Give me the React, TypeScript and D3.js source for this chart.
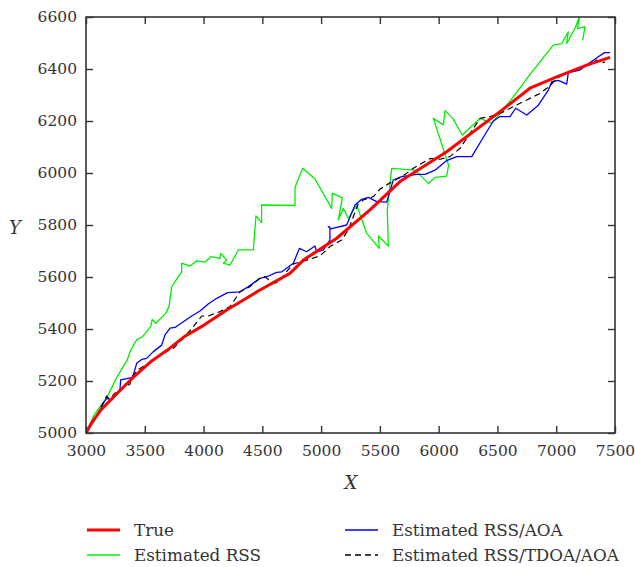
import React, { useEffect, useRef } from "react";
import * as d3 from "d3";

// tick values
const xTicks = [3000, 3500, 4000, 4500, 5000, 5500, 6000, 6500, 7000, 7500];
const yTicks = [5000, 5200, 5400, 5600, 5800, 6000, 6200, 6400, 6600];

// series, [x, y]
const trueTrack: [number, number][] = [
	[3000, 5000], [3050, 5040], [3125, 5088], [3266, 5153], [3408, 5217], [3550, 5274],
	[3692, 5319], [3834, 5370], [4004, 5415], [4197, 5473], [4480, 5550], [4735, 5614],
	[4849, 5665], [5133, 5749], [5416, 5858], [5671, 5967], [6068, 6082], [6522, 6236],
	[6777, 6326], [7004, 6370], [7259, 6415], [7458, 6445],
];

const rssTrack: [number, number][] = [
	[3000, 5000], [3068, 5069], [3181, 5140], [3266, 5217], [3351, 5281], [3380, 5319],
	[3431, 5358], [3479, 5370], [3550, 5409], [3564, 5437], [3593, 5422], [3678, 5460],
	[3706, 5486], [3729, 5563], [3814, 5620], [3814, 5653], [3885, 5642], [3942, 5662],
	[4012, 5657], [4061, 5678], [4140, 5672], [4146, 5691], [4197, 5665], [4168, 5653],
	[4225, 5646], [4296, 5704], [4423, 5704], [4446, 5835], [4494, 5809], [4494, 5877],
	[4778, 5875], [4778, 5945], [4843, 6018], [4948, 5977], [5090, 5864], [5095, 5922],
	[5181, 5905], [5146, 5819], [5189, 5864], [5231, 5826], [5302, 5877], [5388, 5768],
	[5495, 5710], [5487, 5758], [5572, 5719], [5563, 5858], [5600, 6018], [5799, 6011],
	[5912, 5960], [5969, 5983], [6068, 5988], [6085, 6030], [5954, 6210], [6040, 6185],
	[6054, 6240], [6120, 6210], [6200, 6146], [6352, 6210], [6451, 6191], [6522, 6229],
	[6635, 6293], [6805, 6396], [6975, 6492], [7046, 6498], [7103, 6543], [7089, 6498],
	[7160, 6556], [7200, 6605], [7180, 6555], [7245, 6563], [7225, 6510],
];

const rssAoaTrack: [number, number][] = [
	[3000, 5000], [3100, 5070], [3147, 5114], [3176, 5133], [3219, 5127], [3289, 5168],
	[3295, 5204], [3397, 5214], [3431, 5268], [3474, 5283], [3516, 5287], [3573, 5313],
	[3644, 5338], [3672, 5377], [3715, 5403], [3757, 5406], [3828, 5428], [3899, 5450],
	[3970, 5469], [4040, 5496], [4112, 5518], [4205, 5540], [4310, 5543], [4381, 5563],
	[4480, 5595], [4537, 5601], [4622, 5618], [4665, 5620], [4764, 5653], [4815, 5710],
	[4877, 5697], [4948, 5719], [4962, 5697], [5019, 5704], [5075, 5742], [5075, 5791],
	[5061, 5794], [5080, 5785], [5218, 5800], [5288, 5877], [5345, 5899], [5402, 5906],
	[5473, 5890], [5558, 5888], [5614, 5973], [5686, 5986], [5813, 5995], [5884, 5995],
	[5969, 6011], [6068, 6048], [6153, 6063], [6281, 6063], [6366, 6127], [6465, 6200],
	[6522, 6217], [6607, 6217], [6655, 6249], [6749, 6223], [6848, 6261], [6933, 6319],
	[6962, 6351], [7018, 6356], [7089, 6342], [7103, 6386], [7202, 6396], [7245, 6411],
	[7358, 6447], [7412, 6463], [7458, 6463],
];

const rssTdoaAoaTrack: [number, number][] = [
	[3000, 5000], [3100, 5075], [3176, 5142], [3200, 5130], [3247, 5153], [3332, 5178],
	[3374, 5188], [3389, 5216], [3450, 5245], [3550, 5274], [3650, 5305], [3743, 5326],
	[3828, 5364], [3913, 5409], [3984, 5450], [4040, 5450], [4140, 5467], [4225, 5486],
	[4310, 5543], [4395, 5563], [4480, 5595], [4523, 5601], [4594, 5576], [4640, 5580],
	[4693, 5614], [4764, 5650], [4877, 5665], [4991, 5681], [5075, 5717], [5175, 5742],
	[5231, 5781], [5274, 5832], [5317, 5883], [5359, 5896], [5445, 5909], [5501, 5938],
	[5586, 5962], [5700, 5990], [5784, 6018], [5929, 6056], [6012, 6053], [6096, 6063],
	[6182, 6095], [6210, 6114], [6324, 6191], [6352, 6210], [6437, 6217], [6522, 6229],
	[6635, 6255], [6749, 6281], [6862, 6306], [6947, 6335], [7004, 6364], [7117, 6390],
	[7259, 6415], [7316, 6425], [7344, 6435], [7387, 6422], [7415, 6428],
];

const legendItems = [
	{ label: "True", color: "#ff0000", width: 3, dash: null, col: 0, row: 0 },
	{ label: "Estimated RSS", color: "#00ee00", width: 1.3, dash: null, col: 0, row: 1 },
	{ label: "Estimated RSS/AOA", color: "#0000ff", width: 1.3, dash: null, col: 1, row: 0 },
	{ label: "Estimated RSS/TDOA/AOA", color: "#000000", width: 1.3, dash: "6,4", col: 1, row: 1 },
];

const FONT = "DejaVu Serif";
const TICK_FS = 15.5;
const FS = 16.8;
const TEXT = "#333333";

const App = () => {
	const svgRef = useRef<SVGSVGElement>(null);

	useEffect(() => {
		const root = d3.select(svgRef.current);
		root.selectAll("*").remove();

		const left = 86, right = 615, top = 17, bottom = 433;
		const x = d3.scaleLinear().domain([3000, 7500]).range([left, right]);
		const y = d3.scaleLinear().domain([5000, 6600]).range([bottom, top]);

		root.append("defs").append("clipPath").attr("id", "plotclip")
			.append("rect").attr("x", left).attr("y", top)
			.attr("width", right - left).attr("height", bottom - top);

		const line = d3.line<[number, number]>().x((d) => x(d[0])).y((d) => y(d[1]));

		const plot = root.append("g").attr("clip-path", "url(#plotclip)");
		const draw = (data, color, width, dash) => {
			plot.append("path").datum(data)
				.attr("d", line)
				.attr("fill", "none")
				.attr("stroke", color)
				.attr("stroke-width", width)
				.attr("stroke-linejoin", "round")
				.attr("stroke-dasharray", dash);
		};
		draw(rssTrack, "#00ee00", 1.3, null);
		draw(rssAoaTrack, "#0000ff", 1.3, null);
		draw(rssTdoaAoaTrack, "#000000", 1.2, "6,4");
		draw(trueTrack, "#ff0000", 3, null);

		// frame + inward ticks
		const tickLen = 7;
		const axisStyle = (g) => {
			g.attr("font-family", FONT).attr("font-size", TICK_FS);
			g.select(".domain").remove();
			g.selectAll("line").attr("stroke", TEXT).attr("stroke-width", 1.4);
			g.selectAll("text").attr("fill", TEXT);
		};
		root.append("g").attr("transform", `translate(0,${bottom})`)
			.call(d3.axisBottom(x).tickValues(xTicks).tickSize(-tickLen).tickPadding(12).tickFormat(d3.format("d")))
			.call(axisStyle);
		root.append("g").attr("transform", `translate(0,${top})`)
			.call(d3.axisTop(x).tickValues(xTicks).tickSize(-tickLen).tickFormat(() => ""))
			.call(axisStyle);
		root.append("g").attr("transform", `translate(${left},0)`)
			.call(d3.axisLeft(y).tickValues(yTicks).tickSize(-tickLen).tickPadding(9).tickFormat(d3.format("d")))
			.call(axisStyle);
		root.append("g").attr("transform", `translate(${right},0)`)
			.call(d3.axisRight(y).tickValues(yTicks).tickSize(-tickLen).tickFormat(() => ""))
			.call(axisStyle);

		root.append("rect")
			.attr("x", left).attr("y", top)
			.attr("width", right - left).attr("height", bottom - top)
			.attr("fill", "none").attr("stroke", TEXT).attr("stroke-width", 1.6);

		// axis titles
		root.append("text").attr("x", 351).attr("y", 489)
			.attr("text-anchor", "middle").attr("fill", TEXT)
			.attr("font-family", FONT).attr("font-style", "italic").attr("font-size", 18)
			.text("X");
		root.append("text").attr("x", 15).attr("y", 234)
			.attr("text-anchor", "middle").attr("fill", TEXT)
			.attr("font-family", FONT).attr("font-style", "italic").attr("font-size", 18)
			.text("Y");

		// legend
		const colX = [87, 345];
		const rowY = [530, 555];
		const legend = root.append("g");
		legendItems.forEach((it) => {
			const lx = colX[it.col], ly = rowY[it.row];
			legend.append("line")
				.attr("x1", lx).attr("x2", lx + 33).attr("y1", ly).attr("y2", ly)
				.attr("stroke", it.color).attr("stroke-width", it.width)
				.attr("stroke-dasharray", it.dash);
			legend.append("text")
				.attr("x", lx + 47).attr("y", ly + 6)
				.attr("fill", TEXT)
				.attr("font-family", FONT).attr("font-size", FS)
				.text(it.label);
		});
	}, []);

	return (
		<svg
			ref={svgRef}
			width={635}
			height={567}
			style={{ position: "absolute", left: 0, top: 0, background: "#fff" }}
		></svg>
	);
};

export default App;
